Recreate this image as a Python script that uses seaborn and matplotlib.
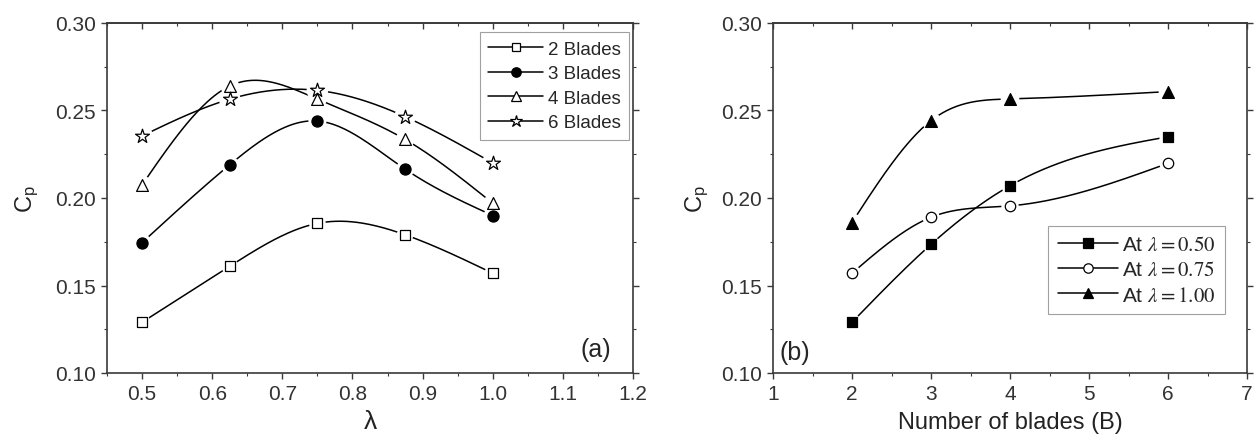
import numpy as np
import pandas as pd
import matplotlib
matplotlib.use("Agg")
import matplotlib.pyplot as plt
from matplotlib.lines import Line2D
import seaborn as sns

# ---------------- data ----------------
tsr = [0.5, 0.625, 0.75, 0.875, 1.0]
cp_2 = [0.129, 0.161, 0.1855, 0.179, 0.157]
cp_3 = [0.1745, 0.219, 0.244, 0.2165, 0.190]
cp_4 = [0.2075, 0.264, 0.2565, 0.2335, 0.197]
cp_6 = [0.2355, 0.2565, 0.2615, 0.2465, 0.220]
labels_a = ["2 Blades", "3 Blades", "4 Blades", "6 Blades"]

blades = [2, 3, 4, 6]
cp_l050 = [0.129, 0.1735, 0.207, 0.235]
cp_l075 = [0.157, 0.189, 0.1955, 0.2198]
cp_l100 = [0.186, 0.2442, 0.2566, 0.2608]
labels_b = [r"At $\lambda = 0.50$", r"At $\lambda = 0.75$", r"At $\lambda = 1.00$"]

# ---------------- helpers ----------------
def natural_spline(x, y, n=200):
    x = np.asarray(x, float); y = np.asarray(y, float)
    k = len(x)
    h = np.diff(x)
    A = np.zeros((k, k)); b = np.zeros(k)
    A[0, 0] = A[-1, -1] = 1
    for i in range(1, k - 1):
        A[i, i - 1] = h[i - 1]
        A[i, i] = 2 * (h[i - 1] + h[i])
        A[i, i + 1] = h[i]
        b[i] = 3 * ((y[i + 1] - y[i]) / h[i] - (y[i] - y[i - 1]) / h[i - 1])
    c = np.linalg.solve(A, b)
    xs = np.linspace(x[0], x[-1], n)
    ys = np.empty_like(xs)
    for j, xv in enumerate(xs):
        i = min(np.searchsorted(x, xv, side="right") - 1, k - 2)
        bi = (y[i + 1] - y[i]) / h[i] - h[i] * (2 * c[i] + c[i + 1]) / 3
        di = (c[i + 1] - c[i]) / (3 * h[i])
        dx = xv - x[i]
        ys[j] = y[i] + bi * dx + c[i] * dx ** 2 + di * dx ** 3
    return xs, ys

sns.set_theme(style="ticks")
plt.rcParams["font.family"] = ["Liberation Sans", "DejaVu Sans"]
plt.rcParams["mathtext.fontset"] = "stix"

W, H = 1256, 439
fig = plt.figure(figsize=(W / 100, H / 100), dpi=100)
axA = fig.add_axes([107 / W, 1 - 374 / H, (633 - 107) / W, 350 / H])
axB = fig.add_axes([773 / W, 1 - 374 / H, (1247 - 773) / W, 350 / H])

spine_col = "#3a3a3a"

def draw_series(ax, x, y, marker, face, ms):
    xs, ys = natural_spline(x, y)
    sns.lineplot(x=xs, y=ys, ax=ax, color="black", lw=1.1, zorder=2, legend=False)
    df = pd.DataFrame({"x": x, "y": y})
    # white halo for gap around markers
    sns.scatterplot(data=df, x="x", y="y", ax=ax, marker="o", s=(ms + 5) ** 2,
                    color="white", edgecolor="none", zorder=3, legend=False)
    sns.scatterplot(data=df, x="x", y="y", ax=ax, marker=marker, s=ms ** 2,
                    facecolor=face, edgecolor="black", linewidth=0.9,
                    zorder=4, legend=False)

# ---------------- panel (a) ----------------
styles_a = [("s", "white", 7), ("o", "black", 8), ("^", "white", 8.5), ("*", "white", 10.5)]
for ys, (m, f, ms) in zip([cp_2, cp_3, cp_4, cp_6], styles_a):
    draw_series(axA, tsr, ys, m, f, ms)

axA.set_xlim(0.45, 1.2)
axA.set_ylim(0.10, 0.30)
axA.set_xticks(np.arange(0.5, 1.21, 0.1))
axA.set_xticklabels([f"{v:.1f}" for v in np.arange(0.5, 1.21, 0.1)])
axA.set_xticks(np.arange(0.45, 1.2, 0.05), minor=True)
axA.set_yticks(np.arange(0.10, 0.301, 0.05))
axA.set_yticklabels([f"{v:.2f}" for v in np.arange(0.10, 0.301, 0.05)])
axA.set_yticks(np.arange(0.10, 0.30, 0.025), minor=True)
axA.set_xlabel(r"λ", fontsize=19, labelpad=4)
axA.set_ylabel(r"C$_\mathregular{p}$", fontsize=17, labelpad=11)
axA.text(0.93, 0.07, "(a)", transform=axA.transAxes, fontsize=18, ha="center", va="center")

handles_a = [Line2D([], [], color="black", lw=1.1, marker=m, markerfacecolor=f,
                    markeredgecolor="black", markersize=ms * 0.85, markeredgewidth=0.9)
             for (m, f, ms) in styles_a]
legA = axA.legend(handles_a, labels_a, loc="upper left", bbox_to_anchor=((480 - 107) / 526, (374 - 33) / 350),
                  fontsize=13.5, frameon=True, fancybox=False, edgecolor="#888888",
                  handlelength=2.9, handletextpad=0.25, labelspacing=0.4, borderpad=0.45,
                  borderaxespad=0)
legA.get_frame().set_linewidth(0.8)

# ---------------- panel (b) ----------------
styles_b = [("s", "black", 7.5), ("o", "white", 7.5), ("^", "black", 8.5)]
for ys, (m, f, ms) in zip([cp_l050, cp_l075, cp_l100], styles_b):
    draw_series(axB, blades, ys, m, f, ms)

axB.set_xlim(1, 7)
axB.set_ylim(0.10, 0.30)
axB.set_xticks(range(1, 8))
axB.set_xticks(np.arange(1.5, 7, 1.0), minor=True)
axB.set_yticks(np.arange(0.10, 0.301, 0.05))
axB.set_yticklabels([f"{v:.2f}" for v in np.arange(0.10, 0.301, 0.05)])
axB.set_yticks(np.arange(0.10, 0.30, 0.025), minor=True)
axB.set_xlabel("Number of blades (B)", fontsize=17, labelpad=6)
axB.set_ylabel(r"C$_\mathregular{p}$", fontsize=17, labelpad=8)
axB.text(0.046, 0.06, "(b)", transform=axB.transAxes, fontsize=18, ha="center", va="center")

handles_b = [Line2D([], [], color="black", lw=1.1, marker=m, markerfacecolor=f,
                    markeredgecolor="black", markersize=ms * 0.9, markeredgewidth=0.9)
             for (m, f, ms) in styles_b]
legB = axB.legend(handles_b, labels_b, loc="lower right",
                  bbox_to_anchor=((1225 - 773) / 474, (374 - 315) / 350),
                  fontsize=15, frameon=True, fancybox=False, edgecolor="#888888",
                  handlelength=2.9, handletextpad=0.2, labelspacing=0.3, borderpad=0.45,
                  borderaxespad=0)
legB.get_frame().set_linewidth(0.8)

# ---------------- common styling ----------------
for ax in (axA, axB):
    for s in ax.spines.values():
        s.set_visible(True)
        s.set_color(spine_col)
        s.set_linewidth(1.2)
    ax.tick_params(axis="both", which="major", direction="out", length=4, width=1.0,
                   color=spine_col, labelsize=15, labelcolor="#333333", pad=4,
                   right=True)
    ax.tick_params(axis="both", which="minor", direction="out", length=2.5, width=0.8,
                   color=spine_col, right=True)
    top = ax.secondary_xaxis("top")
    top.set_xticks(ax.get_xticks())
    top.set_xticks(ax.get_xticks(minor=True), minor=True)
    top.tick_params(which="major", direction="in", length=4, width=1.0, color=spine_col,
                    labeltop=False)
    top.tick_params(which="minor", direction="in", length=2.5, width=0.8, color=spine_col)
    top.spines["top"].set_color(spine_col)
    top.spines["top"].set_linewidth(1.2)
    ax.xaxis.label.set_color("#222222")
    ax.yaxis.label.set_color("#222222")

fig.savefig("out.png", dpi=100, facecolor="white")
